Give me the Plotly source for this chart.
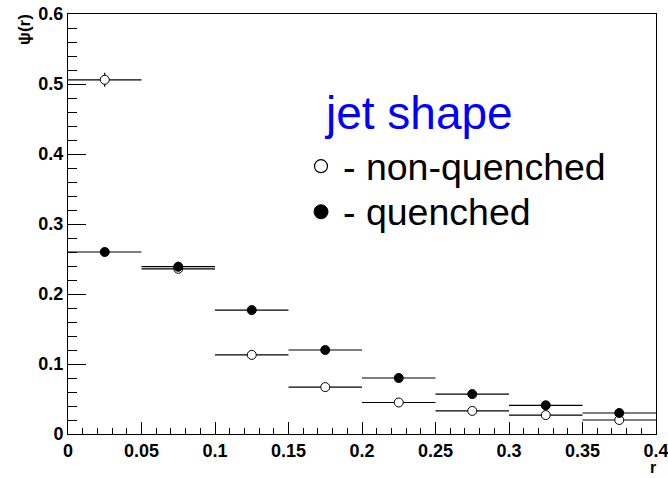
import plotly.graph_objects as go

# ---- data ----
bin_edges = [0.0, 0.05, 0.10, 0.15, 0.20, 0.25, 0.30, 0.35, 0.40]
r_centers = [0.025, 0.075, 0.125, 0.175, 0.225, 0.275, 0.325, 0.375]
psi_nonquenched = [0.506, 0.236, 0.113, 0.067, 0.045, 0.033, 0.027, 0.020]
err_nonquenched = [0.010, 0.005, 0.003, 0.002, 0.002, 0.002, 0.001, 0.001]
psi_quenched = [0.260, 0.239, 0.177, 0.120, 0.080, 0.057, 0.041, 0.030]
err_quenched = [0.004, 0.007, 0.003, 0.002, 0.002, 0.002, 0.001, 0.001]
x_ticks = [0, 0.05, 0.1, 0.15, 0.2, 0.25, 0.3, 0.35, 0.4]
x_tick_labels = ["0", "0.05", "0.1", "0.15", "0.2", "0.25", "0.3", "0.35", "0.4"]
y_ticks = [0, 0.1, 0.2, 0.3, 0.4, 0.5, 0.6]
y_tick_labels = ["0", "0.1", "0.2", "0.3", "0.4", "0.5", "0.6"]

half_width = [(bin_edges[i + 1] - bin_edges[i]) / 2 for i in range(len(r_centers))]

FONT = "Liberation Sans, Arial, Helvetica, sans-serif"

fig = go.Figure()

fig.add_trace(go.Scatter(
    x=r_centers, y=psi_nonquenched, mode="markers",
    marker=dict(symbol="circle", size=9, color="white", line=dict(color="black", width=1)),
    error_x=dict(type="data", array=half_width, width=0, thickness=1.2, color="black"),
    error_y=dict(type="data", array=err_nonquenched, width=0, thickness=1.2, color="black"),
    name="non-quenched", showlegend=False, cliponaxis=False,
))
fig.add_trace(go.Scatter(
    x=r_centers, y=psi_quenched, mode="markers",
    marker=dict(symbol="circle", size=9, color="black", line=dict(color="black", width=1)),
    error_x=dict(type="data", array=half_width, width=0, thickness=1.2, color="black"),
    error_y=dict(type="data", array=err_quenched, width=0, thickness=1.2, color="black"),
    name="quenched", showlegend=False, cliponaxis=False,
))

axis_common = dict(
    showgrid=False, zeroline=False, showline=True, linecolor="black", linewidth=1,
    mirror=True, ticks="inside", tickcolor="black", tickwidth=1, automargin=False,
    ticklabeloverflow="allow",
    tickfont=dict(family=FONT, size=18, color="black", weight="bold"),
)

fig.update_layout(
    width=668, height=478,
    margin=dict(l=68, r=12, t=14, b=44, autoexpand=False),
    paper_bgcolor="white", plot_bgcolor="white",
    xaxis=dict(range=[0, 0.4], tickvals=x_ticks, ticktext=x_tick_labels, ticklen=12,
               minor=dict(dtick=0.01, ticks="inside", ticklen=6, tickcolor="black"),
               **axis_common),
    yaxis=dict(range=[0, 0.6], tickvals=y_ticks, ticktext=y_tick_labels, ticklen=18,
               minor=dict(dtick=0.02, ticks="inside", ticklen=9, tickcolor="black"),
               **axis_common),
    annotations=[
        dict(text="ψ(r)", xref="paper", yref="paper", x=-0.073, y=1.004, xanchor="center",
             yanchor="top", textangle=-90, showarrow=False,
             font=dict(family=FONT, size=17, color="black", weight="bold")),
        dict(text="r", xref="paper", yref="paper", x=1.004, y=-0.079, xanchor="right",
             yanchor="middle", showarrow=False,
             font=dict(family=FONT, size=16, color="black", weight="bold")),
        dict(text="jet shape", xref="paper", yref="paper", x=0.432, y=0.764, xanchor="left",
             yanchor="middle", showarrow=False,
             font=dict(family=FONT, size=46, color="#0000ff")),
        dict(text="- non-quenched", xref="paper", yref="paper", x=0.464, y=0.636, xanchor="left",
             yanchor="middle", showarrow=False,
             font=dict(family=FONT, size=37.5, color="black")),
        dict(text="- quenched", xref="paper", yref="paper", x=0.464, y=0.529, xanchor="left",
             yanchor="middle", showarrow=False,
             font=dict(family=FONT, size=37.5, color="black")),
    ],
    shapes=[
        dict(type="circle", xref="paper", yref="paper", x0=0.4192, x1=0.4413,
             y0=0.6222, y1=0.6532, line=dict(color="black", width=1.2), fillcolor="white"),
        dict(type="circle", xref="paper", yref="paper", x0=0.4184, x1=0.4422,
             y0=0.5124, y1=0.5458, line=dict(color="black", width=1), fillcolor="black"),
    ],
)

fig.write_html(
    "out.html",
    config={"displayModeBar": False},
    post_script="document.body.style.margin='0';",
)
